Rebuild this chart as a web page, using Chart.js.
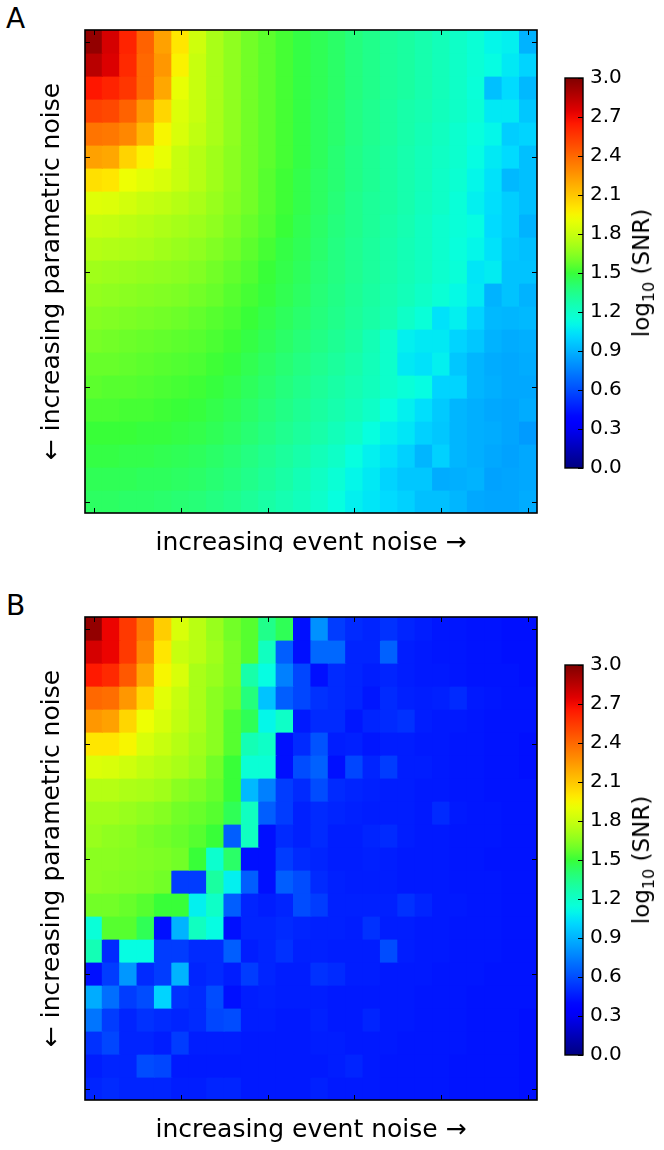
<!DOCTYPE html>
<html>
<head>
<meta charset="utf-8">
<script src="https://cdn.jsdelivr.net/npm/chart.js@4.4.1/dist/chart.umd.min.js"></script>
<style>
  body { margin: 0; background: #fff; width: 664px; height: 1150px; position: relative; overflow: hidden; font-family: "DejaVu Sans", sans-serif; }
  .panel { position: absolute; left: 0; width: 664px; overflow: hidden; }
  .panel canvas { position: absolute; top: 0; }
  .letter { position: absolute; left: 6px; top: 2px; font-size: 28px; line-height: 34px; color: #000; }
  .cblabel { position: absolute; left: 643px; top: 273px; font-size: 23px; white-space: nowrap; color: #000;
             transform: translate(-50%, -50%) rotate(-90deg); }
  .cblabel sub { font-size: 16px; vertical-align: -5px; }
</style>
</head>
<body>
<div class="panel" style="top:0;height:552px">
  <div class="letter">A</div>
  <canvas id="heatA" width="560" height="586" style="left:0"></canvas>
  <canvas id="barA" width="119" height="552" style="left:545px"></canvas>
  <div class="cblabel">log<sub>10</sub> (SNR)</div>
</div>
<div class="panel" style="top:587px;height:563px">
  <div class="letter">B</div>
  <canvas id="heatB" width="560" height="586" style="left:0"></canvas>
  <canvas id="barB" width="119" height="552" style="left:545px"></canvas>
  <div class="cblabel">log<sub>10</sub> (SNR)</div>
</div>
<script>
// columns: event noise levels (left -> right), rows: parametric noise levels (top -> bottom)
const eventNoise = [0, 1, 2, 3, 4, 5, 6, 7, 8, 9, 10, 11, 12, 13, 14, 15, 16, 17, 18, 19, 20, 21, 22, 23, 24, 25];
const paramNoise = [0, 1, 2, 3, 4, 5, 6, 7, 8, 9, 10, 11, 12, 13, 14, 15, 16, 17, 18, 19, 20];
const tickCols = [0, 5, 10, 15, 20, 25];
const tickRows = [0, 5, 10, 15, 20];
const cbTicks = [0, 0.3, 0.6, 0.9, 1.2, 1.5, 1.8, 2.1, 2.4, 2.7, 3.0];

// log10(SNR), panel A
const snrA = [
  [2.95, 2.78, 2.62, 2.42, 2.22, 2.0, 1.82, 1.72, 1.66, 1.6, 1.56, 1.52, 1.48, 1.45, 1.42, 1.38, 1.35, 1.32, 1.3, 1.27, 1.24, 1.2, 1.16, 1.1, 1.08, 0.9],
  [2.85, 2.76, 2.6, 2.4, 2.25, 1.96, 1.8, 1.72, 1.66, 1.6, 1.56, 1.52, 1.48, 1.45, 1.42, 1.38, 1.35, 1.32, 1.3, 1.27, 1.24, 1.2, 1.16, 1.12, 1.06, 1.0],
  [2.66, 2.62, 2.56, 2.4, 2.2, 1.9, 1.8, 1.72, 1.66, 1.6, 1.56, 1.52, 1.48, 1.45, 1.42, 1.38, 1.35, 1.32, 1.3, 1.27, 1.24, 1.2, 1.15, 0.94, 1.02, 0.92],
  [2.52, 2.5, 2.42, 2.25, 2.05, 1.86, 1.8, 1.72, 1.66, 1.6, 1.56, 1.52, 1.48, 1.44, 1.41, 1.37, 1.34, 1.31, 1.28, 1.26, 1.23, 1.2, 1.16, 1.06, 1.06, 0.96],
  [2.36, 2.35, 2.3, 2.15, 1.95, 1.85, 1.78, 1.72, 1.66, 1.6, 1.56, 1.52, 1.48, 1.44, 1.41, 1.37, 1.34, 1.31, 1.28, 1.25, 1.22, 1.18, 1.14, 1.1, 0.98, 1.0],
  [2.22, 2.2, 2.06, 1.96, 1.9, 1.8, 1.75, 1.7, 1.65, 1.6, 1.56, 1.52, 1.48, 1.44, 1.4, 1.36, 1.33, 1.3, 1.27, 1.24, 1.21, 1.18, 1.12, 1.06, 1.02, 0.94],
  [2.02, 2.0, 1.92, 1.88, 1.85, 1.8, 1.75, 1.7, 1.65, 1.6, 1.55, 1.51, 1.47, 1.43, 1.4, 1.36, 1.33, 1.3, 1.27, 1.24, 1.2, 1.17, 1.1, 1.04, 0.92, 0.94],
  [1.87, 1.86, 1.83, 1.8, 1.78, 1.75, 1.72, 1.68, 1.64, 1.6, 1.55, 1.51, 1.47, 1.43, 1.39, 1.35, 1.32, 1.3, 1.27, 1.23, 1.2, 1.15, 1.08, 1.03, 0.98, 0.94],
  [1.8, 1.79, 1.77, 1.75, 1.73, 1.71, 1.69, 1.66, 1.62, 1.58, 1.54, 1.5, 1.46, 1.42, 1.38, 1.35, 1.32, 1.29, 1.26, 1.22, 1.18, 1.15, 1.12, 1.02, 0.98, 0.9],
  [1.75, 1.74, 1.73, 1.72, 1.7, 1.68, 1.66, 1.63, 1.6, 1.56, 1.52, 1.48, 1.45, 1.41, 1.37, 1.34, 1.31, 1.28, 1.25, 1.22, 1.18, 1.14, 1.1, 1.04, 0.96, 0.94],
  [1.7, 1.69, 1.68, 1.67, 1.66, 1.65, 1.63, 1.6, 1.57, 1.54, 1.5, 1.47, 1.44, 1.4, 1.37, 1.34, 1.31, 1.28, 1.25, 1.22, 1.18, 1.15, 1.05, 1.07, 0.95, 0.95],
  [1.67, 1.66, 1.65, 1.64, 1.63, 1.62, 1.6, 1.58, 1.55, 1.52, 1.49, 1.46, 1.43, 1.39, 1.36, 1.33, 1.3, 1.27, 1.24, 1.2, 1.16, 1.11, 1.06, 0.9, 0.95, 0.9],
  [1.64, 1.63, 1.62, 1.61, 1.6, 1.59, 1.57, 1.55, 1.53, 1.5, 1.47, 1.44, 1.41, 1.38, 1.35, 1.32, 1.29, 1.26, 1.2, 1.15, 1.04, 1.08, 1.0, 0.92, 0.91, 0.92],
  [1.61, 1.6, 1.59, 1.58, 1.57, 1.56, 1.55, 1.53, 1.51, 1.48, 1.45, 1.42, 1.39, 1.36, 1.33, 1.3, 1.25, 1.19, 1.08, 1.06, 1.06, 1.0, 0.96, 0.9, 0.88, 0.89],
  [1.58, 1.58, 1.57, 1.56, 1.55, 1.54, 1.53, 1.51, 1.49, 1.46, 1.43, 1.4, 1.37, 1.34, 1.31, 1.28, 1.24, 1.19, 1.06, 1.04, 1.08, 0.96, 0.91, 0.88, 0.87, 0.88],
  [1.56, 1.55, 1.55, 1.54, 1.53, 1.52, 1.51, 1.49, 1.47, 1.44, 1.41, 1.38, 1.35, 1.32, 1.29, 1.26, 1.23, 1.19, 1.15, 1.12, 1.0, 1.0, 0.91, 0.89, 0.87, 0.87],
  [1.53, 1.53, 1.52, 1.52, 1.51, 1.5, 1.49, 1.47, 1.45, 1.42, 1.39, 1.36, 1.33, 1.3, 1.27, 1.24, 1.2, 1.13, 1.08, 1.03, 0.97, 0.91, 0.89, 0.87, 0.86, 0.88],
  [1.5, 1.5, 1.5, 1.49, 1.49, 1.48, 1.47, 1.45, 1.43, 1.4, 1.37, 1.34, 1.31, 1.28, 1.24, 1.2, 1.13, 1.08, 1.05, 0.99, 0.96, 0.91, 0.89, 0.88, 0.86, 0.83],
  [1.48, 1.48, 1.47, 1.47, 1.46, 1.45, 1.44, 1.42, 1.4, 1.37, 1.34, 1.31, 1.28, 1.24, 1.2, 1.13, 1.08, 1.04, 0.99, 0.91, 0.99, 0.91, 0.89, 0.87, 0.85, 0.87],
  [1.45, 1.45, 1.45, 1.44, 1.44, 1.43, 1.42, 1.4, 1.38, 1.35, 1.32, 1.29, 1.25, 1.21, 1.16, 1.1, 1.06, 1.0, 0.96, 0.96, 0.88, 0.89, 0.9, 0.85, 0.86, 0.87],
  [1.43, 1.43, 1.42, 1.42, 1.41, 1.4, 1.39, 1.37, 1.35, 1.32, 1.29, 1.26, 1.23, 1.19, 1.13, 1.08, 1.05, 1.02, 0.99, 0.94, 0.94, 0.91, 0.87, 0.86, 0.86, 0.88]
];

// log10(SNR), panel B
const snrB = [
  [2.95, 2.72, 2.55, 2.35, 2.08, 1.85, 1.76, 1.68, 1.6, 1.55, 1.35, 1.45, 0.42, 0.8, 0.55, 0.5, 0.48, 0.52, 0.48, 0.46, 0.44, 0.44, 0.43, 0.43, 0.42, 0.42],
  [2.78, 2.72, 2.55, 2.3, 2.0, 1.8, 1.76, 1.7, 1.62, 1.55, 1.22, 0.65, 0.42, 0.68, 0.68, 0.48, 0.48, 0.66, 0.46, 0.45, 0.44, 0.44, 0.43, 0.43, 0.42, 0.42],
  [2.65, 2.6, 2.45, 2.2, 1.95, 1.85, 1.72, 1.68, 1.62, 1.28, 1.12, 0.75, 0.58, 0.42, 0.5, 0.48, 0.46, 0.48, 0.46, 0.45, 0.45, 0.44, 0.43, 0.43, 0.43, 0.42],
  [2.4, 2.38, 2.25, 2.05, 1.88, 1.8, 1.72, 1.65, 1.6, 1.38, 0.95, 0.65, 0.58, 0.52, 0.5, 0.48, 0.44, 0.5, 0.47, 0.46, 0.47, 0.5, 0.45, 0.44, 0.43, 0.43],
  [2.25, 2.22, 2.05, 1.92, 1.85, 1.78, 1.72, 1.65, 1.55, 1.45, 1.1, 1.2, 0.45, 0.5, 0.5, 0.44, 0.48, 0.5, 0.52, 0.46, 0.45, 0.45, 0.44, 0.43, 0.43, 0.43],
  [2.0, 2.0, 1.95, 1.85, 1.8, 1.75, 1.7, 1.65, 1.55, 1.25, 1.2, 0.42, 0.5, 0.62, 0.46, 0.47, 0.44, 0.46, 0.46, 0.45, 0.45, 0.44, 0.44, 0.43, 0.43, 0.42],
  [1.86, 1.85, 1.82, 1.78, 1.75, 1.72, 1.68, 1.6, 1.5, 1.16, 1.16, 0.42, 0.6, 0.66, 0.42, 0.58, 0.48, 0.55, 0.46, 0.46, 0.45, 0.44, 0.44, 0.43, 0.43, 0.42],
  [1.75, 1.75, 1.73, 1.72, 1.7, 1.65, 1.62, 1.58, 1.5, 0.92, 0.75, 0.55, 0.5, 0.6, 0.5, 0.48, 0.47, 0.46, 0.46, 0.45, 0.45, 0.44, 0.44, 0.43, 0.43, 0.43],
  [1.7, 1.7, 1.68, 1.66, 1.64, 1.6, 1.58, 1.55, 1.45, 1.22, 0.65, 0.55, 0.47, 0.5, 0.48, 0.47, 0.46, 0.46, 0.46, 0.45, 0.5, 0.45, 0.44, 0.44, 0.43, 0.43],
  [1.68, 1.66, 1.65, 1.62, 1.6, 1.58, 1.55, 1.5, 0.65, 1.22, 0.42, 0.5, 0.47, 0.5, 0.46, 0.46, 0.48, 0.5, 0.46, 0.45, 0.45, 0.44, 0.44, 0.44, 0.43, 0.43],
  [1.65, 1.65, 1.64, 1.63, 1.62, 1.6, 1.5, 1.18, 1.42, 0.42, 0.42, 0.55, 0.5, 0.48, 0.46, 0.46, 0.47, 0.46, 0.45, 0.45, 0.45, 0.44, 0.44, 0.43, 0.43, 0.43],
  [1.65, 1.64, 1.63, 1.62, 1.6, 0.55, 0.55, 1.3, 1.08, 0.65, 0.42, 0.65, 0.6, 0.5, 0.47, 0.46, 0.46, 0.46, 0.45, 0.45, 0.45, 0.44, 0.44, 0.44, 0.43, 0.43],
  [1.6, 1.6, 1.58, 1.55, 1.5, 1.5, 1.08, 1.2, 0.65, 0.48, 0.46, 0.48, 0.6, 0.55, 0.47, 0.47, 0.47, 0.47, 0.52, 0.48, 0.45, 0.45, 0.44, 0.44, 0.43, 0.43],
  [1.15, 1.55, 1.55, 1.45, 0.42, 0.9, 1.22, 1.12, 0.42, 0.48, 0.48, 0.5, 0.48, 0.47, 0.47, 0.46, 0.52, 0.46, 0.46, 0.45, 0.45, 0.44, 0.44, 0.44, 0.43, 0.43],
  [1.25, 0.5, 1.12, 1.12, 0.55, 0.55, 0.5, 0.5, 0.65, 0.46, 0.48, 0.52, 0.47, 0.47, 0.46, 0.46, 0.46, 0.6, 0.46, 0.45, 0.45, 0.44, 0.44, 0.44, 0.43, 0.43],
  [0.42, 0.55, 0.82, 0.5, 0.55, 0.9, 0.48, 0.5, 0.46, 0.55, 0.48, 0.46, 0.46, 0.52, 0.5, 0.46, 0.46, 0.45, 0.45, 0.45, 0.44, 0.44, 0.44, 0.43, 0.43, 0.43],
  [0.88, 0.7, 0.55, 0.6, 1.0, 0.52, 0.5, 0.6, 0.42, 0.46, 0.47, 0.46, 0.46, 0.46, 0.45, 0.45, 0.45, 0.45, 0.45, 0.44, 0.44, 0.44, 0.43, 0.43, 0.43, 0.43],
  [0.72, 0.55, 0.48, 0.52, 0.5, 0.48, 0.5, 0.58, 0.6, 0.46, 0.46, 0.45, 0.45, 0.47, 0.45, 0.45, 0.48, 0.45, 0.45, 0.44, 0.44, 0.44, 0.43, 0.43, 0.43, 0.42],
  [0.52, 0.58, 0.48, 0.48, 0.46, 0.55, 0.46, 0.46, 0.46, 0.45, 0.45, 0.45, 0.45, 0.46, 0.46, 0.45, 0.45, 0.45, 0.44, 0.44, 0.44, 0.44, 0.43, 0.43, 0.43, 0.42],
  [0.46, 0.48, 0.48, 0.6, 0.58, 0.45, 0.45, 0.45, 0.45, 0.45, 0.45, 0.45, 0.45, 0.45, 0.46, 0.48, 0.45, 0.44, 0.44, 0.44, 0.44, 0.43, 0.43, 0.43, 0.43, 0.42],
  [0.48, 0.5, 0.48, 0.48, 0.48, 0.46, 0.46, 0.48, 0.48, 0.45, 0.45, 0.45, 0.45, 0.47, 0.45, 0.45, 0.45, 0.44, 0.44, 0.44, 0.44, 0.43, 0.43, 0.43, 0.43, 0.42]
];

const VMAX = 3;
const FONT = "'DejaVu Sans', sans-serif";

// matplotlib "jet" segment data
function seg(pts, t) {
  for (let i = 1; i < pts.length; i++) {
    if (t <= pts[i][0]) {
      const [x0, y0] = pts[i - 1], [x1, y1] = pts[i];
      return y0 + (y1 - y0) * (t - x0) / (x1 - x0);
    }
  }
  return pts[pts.length - 1][1];
}
function jet(v) {
  const t = Math.max(0, Math.min(1, v / VMAX));
  let c = [
    seg([[0, 0], [0.35, 0], [0.66, 1], [0.89, 1], [1, 0.5]], t),
    seg([[0, 0], [0.125, 0], [0.375, 1], [0.64, 1], [0.91, 0], [1, 0]], t),
    seg([[0, 0.5], [0.11, 1], [0.34, 1], [0.65, 0], [1, 0]], t),
  ];
  // the printed figure is more saturated than plain jet: pull the weakest channel down
  const hi = Math.max(...c), lo = Math.min(...c) * 0.7;
  if (hi > lo) c = c.map((ch) => ((ch - lo) / (hi - lo)) * hi);
  return `rgb(${c.map((ch) => Math.round(ch * 255)).join(",")})`;
}

// frame + inward tick marks on all four sides, like the matplotlib axes
const frameTicks = {
  id: "frameTicks",
  afterDatasetsDraw(chart) {
    const { ctx, chartArea: a, scales: { x, y } } = chart;
    const len = 5;
    ctx.save();
    ctx.strokeStyle = "#000";
    ctx.lineWidth = 1;
    ctx.beginPath();
    tickCols.forEach((c) => {
      const px = Math.round(x.getPixelForValue(c)) + 0.5;
      ctx.moveTo(px, a.bottom); ctx.lineTo(px, a.bottom - len);
      ctx.moveTo(px, a.top); ctx.lineTo(px, a.top + len);
    });
    tickRows.forEach((r) => {
      const py = Math.round(y.getPixelForValue(r + 0.5)) + 0.5;
      ctx.moveTo(a.left, py); ctx.lineTo(a.left + len, py);
      ctx.moveTo(a.right, py); ctx.lineTo(a.right - len, py);
    });
    ctx.stroke();
    ctx.lineWidth = 1.6;
    ctx.strokeRect(a.left, a.top, a.right - a.left, a.bottom - a.top);
    ctx.restore();
  },
};

function drawHeat(id, values) {
  new Chart(document.getElementById(id), {
    type: "bar",
    data: {
      labels: eventNoise,
      datasets: paramNoise.map((r) => ({
        data: eventNoise.map(() => [r, r + 1]),
        backgroundColor: values[r].map(jet),
        borderWidth: 0,
        inflateAmount: 0.6,
        grouped: false,
        barPercentage: 1,
        categoryPercentage: 1,
      })),
    },
    options: {
      responsive: false,
      animation: false,
      events: [],
      layout: { padding: { left: 37, top: 30, right: 23, bottom: 28 } },
      plugins: { legend: { display: false }, tooltip: { enabled: false } },
      scales: {
        x: {
          ticks: { display: false },
          grid: { display: false },
          border: { display: false },
          title: { display: true, text: "increasing event noise \u2192", color: "#000", padding: 0, font: { family: FONT, size: 25 } },
          afterFit: (s) => { s.height = 45; },
        },
        y: {
          type: "linear",
          min: 0,
          max: paramNoise.length,
          reverse: true,
          ticks: { display: false },
          grid: { display: false },
          border: { display: false },
          title: { display: true, text: "\u2190 increasing parametric noise", color: "#000", padding: 0, font: { family: FONT, size: 25 } },
          afterFit: (s) => { s.width = 48; },
        },
      },
    },
    plugins: [frameTicks],
  });
}

const cbFrame = {
  id: "cbFrame",
  afterDatasetsDraw(chart) {
    const { ctx, chartArea: a, scales: { y } } = chart;
    ctx.save();
    ctx.strokeStyle = "#000";
    ctx.lineWidth = 1;
    ctx.beginPath();
    cbTicks.forEach((t) => {
      const py = Math.round(y.getPixelForValue(t)) + 0.5;
      ctx.moveTo(a.right, py); ctx.lineTo(a.right - 5, py);
    });
    ctx.stroke();
    ctx.lineWidth = 1.4;
    ctx.strokeRect(a.left, a.top, a.right - a.left, a.bottom - a.top);
    ctx.restore();
  },
};

function drawColorbar(id) {
  new Chart(document.getElementById(id), {
    type: "bar",
    data: {
      labels: ["cb"],
      datasets: [{
        data: [[0, VMAX]],
        borderWidth: 0,
        barPercentage: 1,
        categoryPercentage: 1,
        backgroundColor: (c) => {
          const area = c.chart.chartArea;
          if (!area) return "#000";
          const grad = c.chart.ctx.createLinearGradient(0, area.bottom, 0, area.top);
          for (let i = 0; i <= 60; i++) grad.addColorStop(i / 60, jet((i / 60) * VMAX));
          return grad;
        },
      }],
    },
    options: {
      responsive: false,
      animation: false,
      events: [],
      layout: { padding: { left: 20, top: 78, right: 0, bottom: 84 } },
      plugins: { legend: { display: false }, tooltip: { enabled: false } },
      scales: {
        x: { display: false },
        y: {
          position: "right",
          min: 0,
          max: VMAX,
          afterBuildTicks: (s) => { s.ticks = cbTicks.map((v) => ({ value: v })); },
          ticks: { color: "#000", padding: 7, font: { family: FONT, size: 20 }, callback: (v) => Number(v).toFixed(1) },
          grid: { display: false, drawTicks: false },
          border: { display: false },
          afterFit: (s) => { s.width = 81; },
        },
      },
    },
    plugins: [cbFrame],
  });
}

drawHeat("heatA", snrA);
drawHeat("heatB", snrB);
drawColorbar("barA");
drawColorbar("barB");
</script>
</body>
</html>
